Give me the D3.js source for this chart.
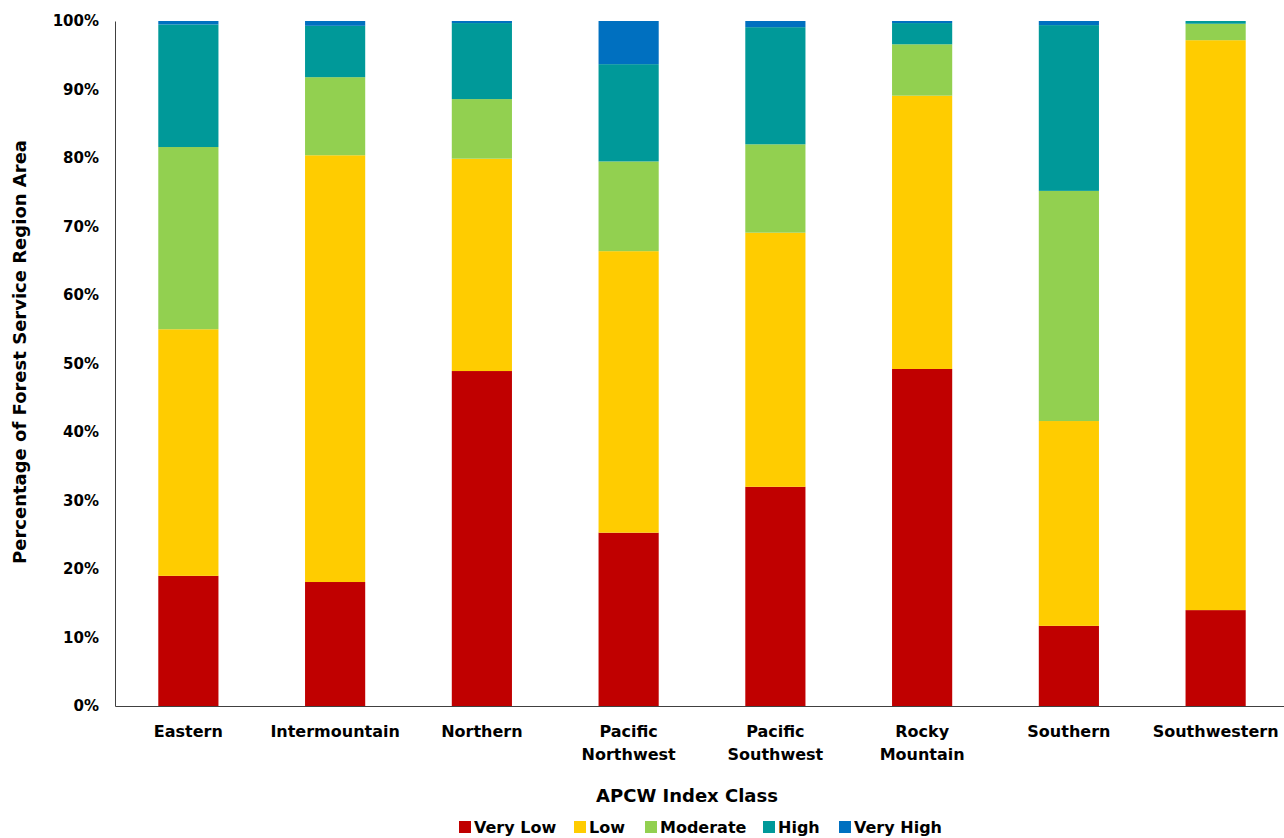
<!DOCTYPE html>
<html>
<head>
<meta charset="utf-8">
<script src="https://cdn.jsdelivr.net/npm/d3@7"></script>
<style>
  body { margin: 0; background: #fff; }
  text { font-family: "DejaVu Sans", sans-serif; font-weight: bold; fill: #000; }
</style>
</head>
<body>
<div id="chart"></div>
<script>
// Regions and class shares (percent of region area)
const regions = ["Eastern", "Intermountain", "Northern", "Pacific Northwest", "Pacific Southwest", "Rocky Mountain", "Southern", "Southwestern"];
const classes = ["Very Low", "Low", "Moderate", "High", "Very High"];
const colors = ["#C00000", "#FFCC00", "#92D050", "#009999", "#0070C0"];

const veryLow  = [19.0, 18.1, 48.9, 25.3, 32.0, 49.2, 11.7, 14.0];
const low      = [36.0, 62.3, 31.0, 41.1, 37.1, 39.9, 29.9, 83.2];
const moderate = [26.6, 11.4,  8.7, 13.1, 12.9,  7.5, 33.6,  2.4];
const high     = [17.9,  7.5, 11.1, 14.2, 17.1,  3.1, 24.2,  0.4];
const veryHigh = [ 0.5,  0.7,  0.3,  6.3,  0.9,  0.3,  0.6,  0.0];
const yTicks = [0, 10, 20, 30, 40, 50, 60, 70, 80, 90, 100];

const series = [veryLow, low, moderate, high, veryHigh];

const W = 1284, H = 838;
const margin = { top: 21, right: -5, bottom: 132, left: 115 };
const width = W - margin.left - margin.right,
      height = H - margin.top - margin.bottom;

const svg = d3.select("#chart").append("svg")
    .attr("width", W)
    .attr("height", H);

const g = svg.append("g")
    .attr("transform", "translate(" + margin.left + "," + margin.top + ")");

const rows = regions.map((r, i) => {
    const o = { region: r };
    classes.forEach((c, k) => o[c] = series[k][i]);
    return o;
});

const stack = d3.stack().keys(classes);
const layers = stack(rows);

const x = d3.scaleBand()
    .domain(regions)
    .range([0, width])
    .paddingInner(0.59)
    .paddingOuter(0.295);

const y = d3.scaleLinear()
    .domain([0, 100])
    .range([height, 0]);

// Bars
g.selectAll(".layer")
    .data(layers)
    .join("g")
    .attr("class", "layer")
    .attr("fill", (d, i) => colors[i])
    .selectAll("rect")
    .data(d => d)
    .join("rect")
    .attr("x", d => x(d.data.region))
    .attr("width", x.bandwidth())
    .attr("y", d => y(Math.min(d[1], 100)))
    .attr("height", d => Math.max(0, y(d[0]) - y(Math.min(d[1], 100))));

// y axis
const yAxis = d3.axisLeft(y)
    .tickValues(yTicks)
    .tickFormat(d => d + "%")
    .tickSize(0)
    .tickPadding(16);

const yAxisEl = g.append("g").call(yAxis);
yAxisEl.select(".domain").attr("stroke", "#404040");
yAxisEl.selectAll("text").style("font-size", "15px");

// x axis
const xAxisEl = g.append("g")
    .attr("transform", "translate(0," + height + ")")
    .call(d3.axisBottom(x).tickSize(0).tickFormat(""));
xAxisEl.select(".domain").attr("stroke", "#404040");

// category labels, split into two lines where needed
g.selectAll(".xlabel")
    .data(regions)
    .join("text")
    .attr("class", "xlabel")
    .attr("text-anchor", "middle")
    .attr("transform", d => "translate(" + (x(d) + x.bandwidth() / 2) + "," + (height + 31) + ")")
    .style("font-size", "16px")
    .each(function(d) {
        const words = d.split(" ");
        d3.select(this).selectAll("tspan")
            .data(words)
            .join("tspan")
            .attr("x", 0)
            .attr("dy", (w, i) => i === 0 ? 0 : "1.45em")
            .text(w => w);
    });

// Axis titles
svg.append("text")
    .attr("transform", "translate(26,352) rotate(-90)")
    .attr("text-anchor", "middle")
    .style("font-size", "18px")
    .text("Percentage of Forest Service Region Area");

svg.append("text")
    .attr("x", 687)
    .attr("y", 802)
    .attr("text-anchor", "middle")
    .style("font-size", "18px")
    .text("APCW Index Class");

// Legend
const legendX = [459, 574, 645, 763, 839];
const legend = svg.append("g").attr("class", "legend");
const item = legend.selectAll("g")
    .data(classes)
    .join("g")
    .attr("transform", (d, i) => "translate(" + legendX[i] + ",821)");
item.append("rect")
    .attr("width", 12)
    .attr("height", 12)
    .attr("fill", (d, i) => colors[i]);
item.append("text")
    .attr("x", 15)
    .attr("y", 12)
    .style("font-size", "16px")
    .text(d => d);
</script>
</body>
</html>
